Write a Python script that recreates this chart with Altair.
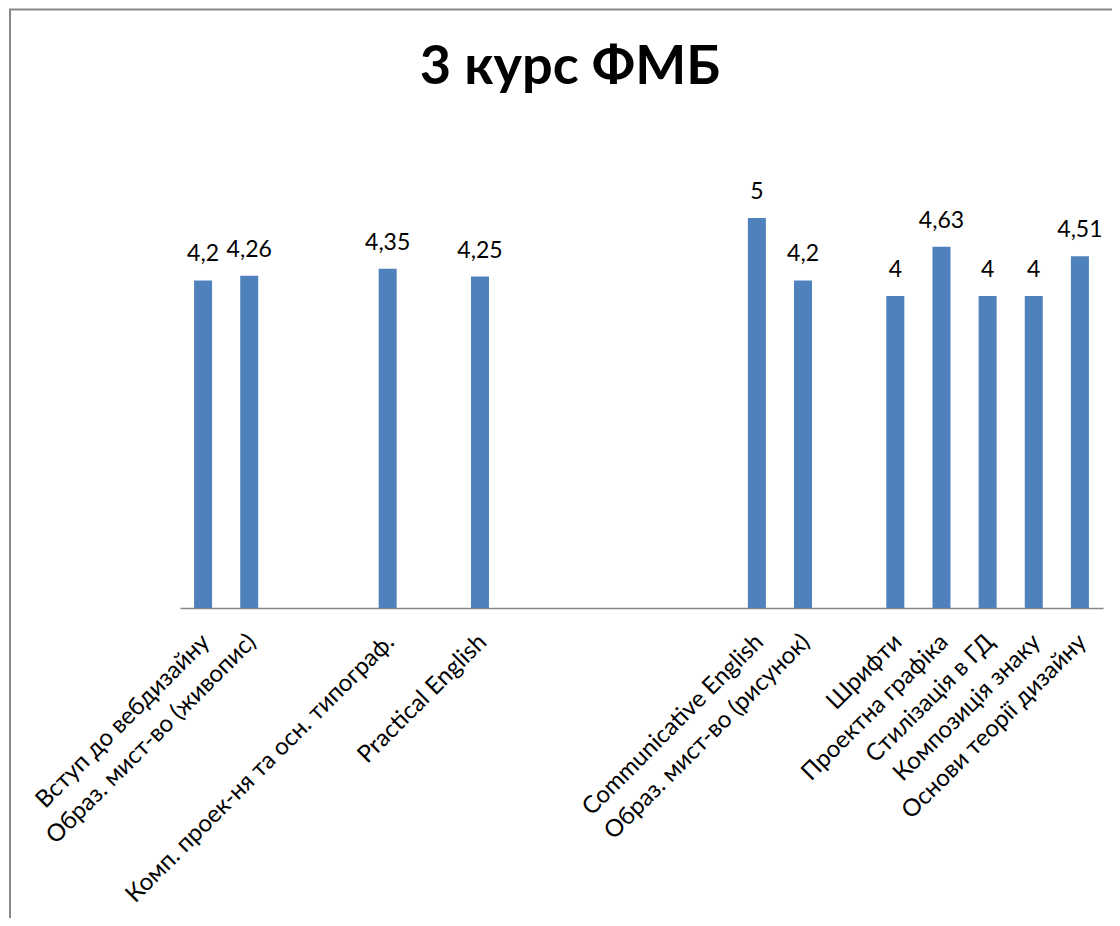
import json
import altair as alt
import pandas as pd

categories = [
    "Вступ до вебдизайну",
    "Образ. мист-во (живопис)",
    "",
    "",
    "Комп. проек-ня та осн. типограф.",
    "",
    "Practical English",
    "",
    "",
    "",
    "",
    "",
    "Communicative English",
    "Образ. мист-во (рисунок)",
    "",
    "Шрифти",
    "Проектна графіка",
    "Стилізація в ГД",
    "Композиція знаку",
    "Основи теорії дизайну",
]
values = [4.2, 4.26, None, None, 4.35, None, 4.25, None, None, None, None, None,
          5, 4.2, None, 4, 4.63, 4, 4, 4.51]
title_text = "3 курс ФМБ"

df = pd.DataFrame({"i": list(range(len(categories))), "cat": categories, "v": values})

FONT = "Lato"
W, H = 923, 468
label_expr = json.dumps(categories, ensure_ascii=False) + "[datum.value]"

x = alt.X(
    "i:O",
    scale=alt.Scale(domain=list(range(len(categories))), paddingInner=0, paddingOuter=0),
    axis=alt.Axis(
        title=None,
        labelExpr=label_expr,
        labelAngle=-45,
        labelAlign="right",
        labelBaseline="middle",
        labelFont=FONT,
        labelFontSize=24,
        labelColor="#000000",
        labelPadding=30,
        labelOffset=3,
        ticks=False,
        domainColor="#868686",
        domainWidth=1.5,
        labelOverlap=False,
        labelLimit=0,
    ),
)
y = alt.Y("v:Q", scale=alt.Scale(domain=[0, 6]), axis=None)

base = alt.Chart(df)
bars = base.mark_bar(size=18, color="#4F81BD").encode(x=x, y=y)
texts = base.transform_filter("isValid(datum.v)").transform_calculate(
    lab="replace(toString(datum.v), '.', ',')"
).mark_text(font=FONT, fontSize=23, baseline="alphabetic", dy=-19, color="#000000").encode(
    x=x, y=y, text="lab:N"
)

one = pd.DataFrame({"t": [title_text]})
title = alt.Chart(one).mark_text(
    font=FONT, fontSize=54, fontWeight="bold", color="#000000",
    align="center", baseline="alphabetic",
).encode(x=alt.value(390), y=alt.value(-56), text="t:N")

border_left = alt.Chart(one).mark_rule(color="#878787", strokeWidth=2).encode(
    x=alt.value(-170), y=alt.value(-131), y2=alt.value(800)
)
border_top = alt.Chart(one).mark_rule(color="#878787", strokeWidth=2).encode(
    x=alt.value(-171), x2=alt.value(960), y=alt.value(-130.5)
)

chart = alt.layer(border_left, border_top, title, bars, texts).properties(
    width=W,
    height=H,
    background="white",
    autosize=alt.AutoSizeParams(type="none"),
    padding={"left": 172, "top": 132, "right": 9, "bottom": 310},
).configure_view(strokeWidth=0, stroke="transparent")

chart.save("out.html", embed_options={"renderer": "svg", "actions": False})
